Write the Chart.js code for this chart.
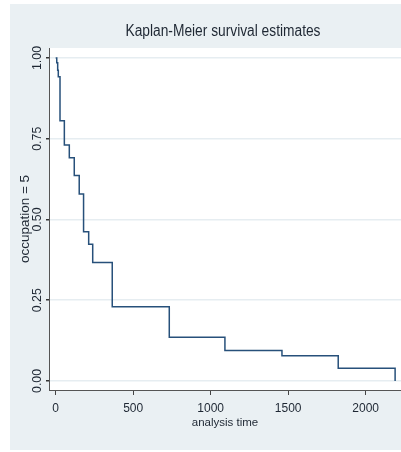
<!DOCTYPE html>
<html>
<head>
<meta charset="utf-8">
<script src="https://cdn.jsdelivr.net/npm/chart.js@4"></script>
<style>
  html, body { margin: 0; padding: 0; background: #fff; }
  canvas { display: block; }
</style>
</head>
<body>
<canvas id="km" width="401" height="452"></canvas>
<script>
// Kaplan-Meier estimate
const times = [0, 7, 13, 17, 28, 56, 88, 120, 152, 180, 213, 239, 365, 733, 1092, 1460, 1823, 2190];
const survival = [1.0, 0.985, 0.962, 0.942, 0.806, 0.731, 0.691, 0.636, 0.579, 0.462, 0.423, 0.367, 0.230, 0.135, 0.094, 0.078, 0.039, 0.0];
const xTicks = [0, 500, 1000, 1500, 2000];
const yTicks = [0, 0.25, 0.5, 0.75, 1];
const yTickLabels = ["0.00", "0.25", "0.50", "0.75", "1.00"];
const chartTitle = "Kaplan-Meier survival estimates";

const FONT = '"Liberation Sans Narrow", "Liberation Sans", Arial, sans-serif';
const BG = "#eaf0f3";
const INK = "#1e2733";

// background panels, the title and the rotated y labels (narrowed like Stata's font)
const stataLook = {
  id: "stataLook",
  beforeDraw(chart) {
    const { ctx, chartArea: a, width, height } = chart;
    ctx.save();
    ctx.fillStyle = "#fff";
    ctx.fillRect(0, 0, width, height);
    ctx.fillStyle = BG;
    ctx.fillRect(10, 4, width - 10, 446);
    ctx.fillStyle = "#fff";
    ctx.fillRect(a.left, a.top, a.right - a.left, a.bottom - a.top);
    ctx.restore();
  },
  afterDraw(chart) {
    const { ctx, chartArea: a } = chart;
    const y = chart.scales.y;
    ctx.save();
    ctx.fillStyle = INK;
    ctx.textAlign = "center";
    ctx.textBaseline = "middle";

    ctx.save();
    ctx.font = "16px " + FONT;
    ctx.translate((a.left + a.right) / 2 - 2, 32);
    ctx.scale(0.86, 1);
    ctx.fillText(chartTitle, 0, 0);
    ctx.restore();

    ctx.font = "13px " + FONT;
    yTicks.forEach((v, i) => {
      const py = y.getPixelForValue(v);
      ctx.save();
      ctx.translate(37, py);
      ctx.rotate(-Math.PI / 2);
      ctx.scale(0.95, 1);
      ctx.fillText(yTickLabels[i], 0, 0);
      ctx.restore();
    });
    ctx.restore();
  }
};

new Chart(document.getElementById("km"), {
  type: "line",
  data: {
    datasets: [{
      data: times.map((t, i) => ({ x: t, y: survival[i] })),
      borderColor: "#27507a",
      borderWidth: 1.5,
      pointRadius: 0,
      stepped: "before",
      fill: false
    }]
  },
  options: {
    responsive: false,
    animation: false,
    layout: { padding: { top: 48, left: 0, right: 0, bottom: 0 } },
    plugins: {
      legend: { display: false },
      title: { display: false },
      tooltip: { enabled: false }
    },
    scales: {
      x: {
        type: "linear",
        min: -43,
        max: 2228,
        afterBuildTicks(s) { s.ticks = xTicks.map(v => ({ value: v })); },
        afterFit(s) { s.height = 62; },
        border: { color: "#555", width: 1 },
        grid: { drawOnChartArea: false, drawTicks: true, tickLength: 5, tickColor: "#444" },
        ticks: {
          color: INK, font: { family: FONT, size: 12 }, padding: 6, maxRotation: 0, autoSkip: false,
          callback: v => String(v)
        },
        title: { display: true, text: "analysis time", color: INK, font: { family: FONT, size: 11.5 }, padding: { top: 0, bottom: 22 } }
      },
      y: {
        type: "linear",
        min: -0.028,
        max: 1.031,
        afterBuildTicks(s) { s.ticks = yTicks.map(v => ({ value: v })); },
        afterFit(s) { s.width = 49; },
        border: { color: "#555", width: 1 },
        grid: { color: "#e6edf1", lineWidth: 1.5, drawTicks: true, tickLength: 3, tickColor: "#333" },
        ticks: { display: false },
        title: { display: true, text: "occupation = 5", color: INK, font: { family: FONT, size: 13.5 }, padding: { top: 17, bottom: 0 } }
      }
    }
  },
  plugins: [stataLook]
});
</script>
</body>
</html>
